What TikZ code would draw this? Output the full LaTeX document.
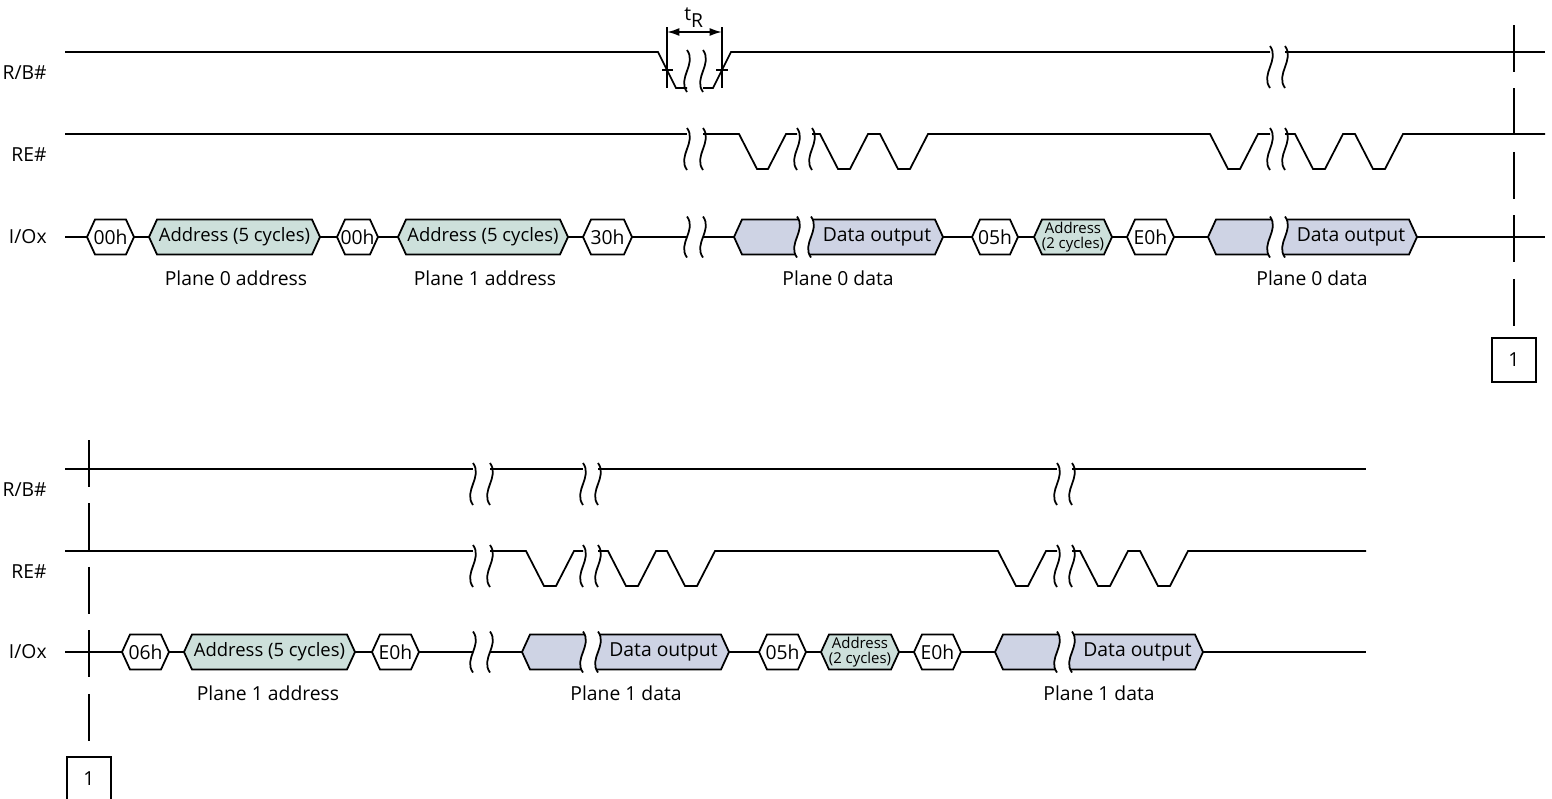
\documentclass[tikz,border=0pt]{standalone}
\usepackage{fontspec}
\setmainfont{Open Sans}
\usetikzlibrary{arrows.meta}
\definecolor{addrfill}{HTML}{CDE0DB}
\definecolor{datafill}{HTML}{CED3E4}
% break mark: x, ytop, ybot
\newcommand{\Brk}[3]{\draw[sig] (#1,#2) .. controls ({#1+10},{(#2)+((#3)-(#2))/3}) and ({#1-10},{(#2)+2*((#3)-(#2))/3}) .. (#1,#3);}
% hexagon: name, x1, x2, y, fill, text
\newcommand{\HexBox}[6]{%
  \filldraw[sig, fill=#5] (#2,#4) -- (#2+8,#4-17.5) -- (#3-8,#4-17.5) -- (#3,#4) -- (#3-8,#4+17.5) -- (#2+8,#4+17.5) -- cycle;
  \coordinate (#1-l) at (#2,#4);
  \coordinate (#1-r) at (#3,#4);
  \node[txt] (#1) at ({(#2+#3)/2},#4) {#6};}
% data block left part: name, x tip, x break, y
\newcommand{\DataL}[4]{%
  \begin{scope}
    \clip (#3,#4-20.5) .. controls (#3+10,#4-6.833) and (#3-10,#4+6.833) .. (#3,#4+20.5) -- (#3,#4+60) -- (#2-30,#4+60) -- (#2-30,#4-60) -- (#3,#4-60) -- cycle;
    \filldraw[sig, fill=datafill] (#2,#4) -- (#2+8,#4-17.5) -- (#3+30,#4-17.5) -- (#3+30,#4+17.5) -- (#2+8,#4+17.5) -- cycle;
  \end{scope}
  \coordinate (#1-l) at (#2,#4);
  \Brk{#3}{#4-20.5}{#4+20.5}}
% data block right part: name, x break, x tip, y, text
\newcommand{\DataR}[5]{%
  \begin{scope}
    \clip (#2,#4-20.5) .. controls (#2+10,#4-6.833) and (#2-10,#4+6.833) .. (#2,#4+20.5) -- (#2,#4+60) -- (#3+30,#4+60) -- (#3+30,#4-60) -- (#2,#4-60) -- cycle;
    \filldraw[sig, fill=datafill] (#2-30,#4-17.5) -- (#3-8,#4-17.5) -- (#3,#4) -- (#3-8,#4+17.5) -- (#2-30,#4+17.5) -- cycle;
  \end{scope}
  \coordinate (#1-r) at (#3,#4);
  \Brk{#2}{#4-20.5}{#4+20.5}
  \node[txt] (#1) at ({(#2+#3)/2},#4) {#5};}
\newcommand{\AdrTxt}{{\fontsize{10.5}{12}\selectfont Address (5 cycles)}}
\begin{document}
\begin{tikzpicture}[x=0.02cm, y=-0.02cm,
  sig/.style={draw=black, line width=1pt, line join=miter},
  txt/.style={font=\fontsize{11}{13}\selectfont, inner sep=0pt},
  smalltxt/.style={font=\fontsize{8.5}{8.8}\selectfont, inner sep=0pt, align=center},
  sigla/.style={font=\fontsize{11}{13}\selectfont, inner sep=0pt, anchor=east},
  dashline/.style={draw=black, line width=1pt, dash pattern=on 0.94cm off 0.33cm},
  markbox/.style={draw=black, line width=1.5pt, minimum width=0.88cm, minimum height=0.88cm, inner sep=0pt, font=\fontsize{11}{13}\selectfont}]
\useasboundingbox (0,0) rectangle (1552,798);

% ================= TOP SECTION =================
\node[sigla] (lrb1) at (47,73) {R/B\#};
\node[sigla] (lre1) at (47,155) {RE\#};
\node[sigla] (lio1) at (47,237) {I/Ox};

% R/B# top
\draw[sig] (65,52) -- (658,52) -- (676,88) -- (687,88);
\draw[sig] (703,88) -- (713,88) -- (731,52) -- (1270,52);
\draw[sig] (1285,52) -- (1545,52);
\Brk{687}{50}{92}\Brk{703}{50}{92}
\Brk{1270}{46}{88}\Brk{1285}{46}{88}
% tR dimension
\coordinate (tra) at (667,27);
\coordinate (trb) at (667,88);
\coordinate (trc) at (722,27);
\coordinate (trd) at (722,88);
\draw[sig] (tra) -- (trb);
\draw[sig] (trc) -- (trd);
\draw[sig] (662,70) -- (673,70);
\draw[sig] (716,70) -- (728,70);
\coordinate (tre) at (667,32);
\coordinate (trf) at (722,32);
\draw[sig, {Latex[length=7pt,width=4.5pt]}-{Latex[length=7pt,width=4.5pt]}] (tre) -- (trf);
\node[txt, anchor=base west] (tR) at (684,20) {t\raisebox{-4.5pt}{R}};

% RE# top
\draw[sig] (65,134) -- (687,134);
\draw[sig] (703,134) -- (739,134) -- (757,169) -- (768,169) -- (786,134) -- (797,134);
\draw[sig] (812,134) -- (820,134) -- (838,169) -- (850,169) -- (868,134) -- (880,134) -- (898,169) -- (910,169) -- (928,134) -- (1210,134) -- (1228,169) -- (1240,169) -- (1258,134) -- (1270,134);
\draw[sig] (1285,134) -- (1295,134) -- (1313,169) -- (1325,169) -- (1343,134) -- (1355,134) -- (1373,169) -- (1385,169) -- (1403,134) -- (1545,134);
\Brk{687}{128}{170}\Brk{703}{128}{170}
\Brk{797}{128}{170}\Brk{812}{128}{170}
\Brk{1270}{128}{170}\Brk{1285}{128}{170}

% I/Ox top
\coordinate (ioa) at (65,237);
\HexBox{c00a}{87}{134}{237}{white}{00h}
\HexBox{adra}{149}{320}{237}{addrfill}{\AdrTxt}
\HexBox{c00b}{337}{378}{237}{white}{00h}
\HexBox{adrb}{398}{568}{237}{addrfill}{\AdrTxt}
\HexBox{c30}{583}{632}{237}{white}{30h}
\coordinate (bka) at (687,237);
\coordinate (bkb) at (703,237);
\Brk{687}{216.5}{257.5}\Brk{703}{216.5}{257.5}
\DataL{dla}{734}{797}{237}
\DataR{dra}{811}{943}{237}{Data output}
\HexBox{c05a}{972}{1018}{237}{white}{05h}
\HexBox{ada2}{1034}{1112}{237}{addrfill}{}
\node[smalltxt] (ada2t) at (1073,237) {Address\\(2 cycles)};
\HexBox{ce0a}{1127}{1174}{237}{white}{E0h}
\DataL{dlb}{1208}{1270}{237}
\DataR{drb}{1285}{1417}{237}{Data output}
\coordinate (ioz) at (1545,237);
\draw[sig] (ioa) -- (c00a-l);
\draw[sig] (c00a-r) -- (adra-l);
\draw[sig] (adra-r) -- (c00b-l);
\draw[sig] (c00b-r) -- (adrb-l);
\draw[sig] (adrb-r) -- (c30-l);
\draw[sig] (c30-r) -- (bka);
\draw[sig] (bkb) -- (dla-l);
\draw[sig] (dra-r) -- (c05a-l);
\draw[sig] (c05a-r) -- (ada2-l);
\draw[sig] (ada2-r) -- (ce0a-l);
\draw[sig] (ce0a-r) -- (dlb-l);
\draw[sig] (drb-r) -- (ioz);

\node[txt] (p0a) at (236,278) {Plane 0 address};
\node[txt] (p1a) at (485,278) {Plane 1 address};
\node[txt] (p0d) at (838,278) {Plane 0 data};
\node[txt] (p0e) at (1312,278) {Plane 0 data};

% continuation marker top
\node[markbox] (box1) at (1514,360) {1};
\coordinate (dta) at (1514,25);
\coordinate (dtb) at (1514,327);
\draw[dashline] (dta) -- (dtb);

% ================= BOTTOM SECTION =================
\node[sigla] (lrb2) at (47,490) {R/B\#};
\node[sigla] (lre2) at (47,572) {RE\#};
\node[sigla] (lio2) at (47,652) {I/Ox};

% R/B# bottom
\draw[sig] (65,469) -- (473,469);
\draw[sig] (490,469) -- (583,469);
\draw[sig] (598,469) -- (1057,469);
\draw[sig] (1072,469) -- (1366,469);
\Brk{473}{463}{505}\Brk{490}{463}{505}
\Brk{583}{463}{505}\Brk{598}{463}{505}
\Brk{1057}{463}{505}\Brk{1072}{463}{505}

% RE# bottom
\draw[sig] (65,551) -- (473,551);
\draw[sig] (490,551) -- (526,551) -- (544,586) -- (556,586) -- (574,551) -- (583,551);
\draw[sig] (598,551) -- (608,551) -- (626,586) -- (638,586) -- (656,551) -- (667,551) -- (685,586) -- (697,586) -- (715,551) -- (998,551) -- (1016,586) -- (1028,586) -- (1046,551) -- (1057,551);
\draw[sig] (1072,551) -- (1080,551) -- (1098,586) -- (1110,586) -- (1128,551) -- (1140,551) -- (1158,586) -- (1170,586) -- (1188,551) -- (1366,551);
\Brk{473}{545}{587}\Brk{490}{545}{587}
\Brk{583}{545}{587}\Brk{598}{545}{587}
\Brk{1057}{545}{587}\Brk{1072}{545}{587}

% I/Ox bottom
\coordinate (iob) at (65,652);
\HexBox{c06}{122}{169}{652}{white}{06h}
\HexBox{adrc}{184}{355}{652}{addrfill}{\AdrTxt}
\HexBox{ce0b}{372}{419}{652}{white}{E0h}
\coordinate (bkc) at (473,652);
\coordinate (bkd) at (490,652);
\Brk{473}{631.5}{672.5}\Brk{490}{631.5}{672.5}
\DataL{dlc}{522}{583}{652}
\DataR{drc}{598}{729}{652}{Data output}
\HexBox{c05b}{759}{806}{652}{white}{05h}
\HexBox{adb2}{821}{899}{652}{addrfill}{}
\node[smalltxt] (adb2t) at (860,652) {Address\\(2 cycles)};
\HexBox{ce0c}{914}{961}{652}{white}{E0h}
\DataL{dld}{995}{1057}{652}
\DataR{drd}{1072}{1203}{652}{Data output}
\coordinate (ioy) at (1366,652);
\draw[sig] (iob) -- (c06-l);
\draw[sig] (c06-r) -- (adrc-l);
\draw[sig] (adrc-r) -- (ce0b-l);
\draw[sig] (ce0b-r) -- (bkc);
\draw[sig] (bkd) -- (dlc-l);
\draw[sig] (drc-r) -- (c05b-l);
\draw[sig] (c05b-r) -- (adb2-l);
\draw[sig] (adb2-r) -- (ce0c-l);
\draw[sig] (ce0c-r) -- (dld-l);
\draw[sig] (drd-r) -- (ioy);

\node[txt] (p1b) at (268,693) {Plane 1 address};
\node[txt] (p1c) at (626,693) {Plane 1 data};
\node[txt] (p1d) at (1099,693) {Plane 1 data};

% continuation marker bottom
\node[markbox] (box2) at (89,779) {1};
\coordinate (dba) at (89,440);
\coordinate (dbb) at (89,742);
\draw[dashline] (dba) -- (dbb);
\end{tikzpicture}
\end{document}
